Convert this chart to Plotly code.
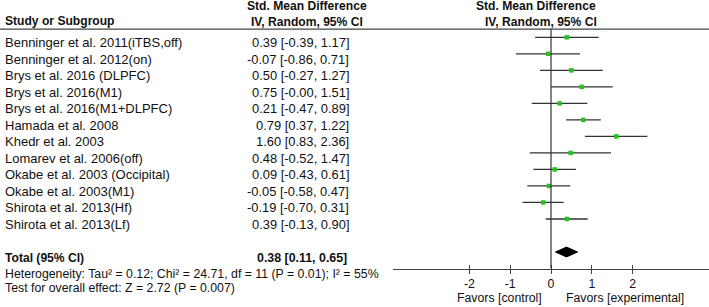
import plotly.graph_objects as go

studies = [
    "Benninger et al. 2011(iTBS,off)",
    "Benninger et al. 2012(on)",
    "Brys et al. 2016 (DLPFC)",
    "Brys et al. 2016(M1)",
    "Brys et al. 2016(M1+DLPFC)",
    "Hamada et al. 2008",
    "Khedr et al. 2003",
    "Lomarev et al. 2006(off)",
    "Okabe et al. 2003 (Occipital)",
    "Okabe et al. 2003(M1)",
    "Shirota et al. 2013(Hf)",
    "Shirota et al. 2013(Lf)",
]
est = [0.39, -0.07, 0.50, 0.75, 0.21, 0.79, 1.60, 0.48, 0.09, -0.05, -0.19, 0.39]
lo = [-0.39, -0.86, -0.27, -0.00, -0.47, 0.37, 0.83, -0.52, -0.43, -0.58, -0.70, -0.13]
hi = [1.17, 0.71, 1.27, 1.51, 0.89, 1.22, 2.36, 1.47, 0.61, 0.47, 0.31, 0.90]

total_est, total_lo, total_hi = 0.38, 0.11, 0.65
tick_vals = [-2, -1, 0, 1, 2]
tick_text = ["-2", "-1", "0", "1", "2"]

heterogeneity = "Heterogeneity: Tau² = 0.12; Chi² = 24.71, df = 11 (P = 0.01); I² = 55%"
overall = "Test for overall effect: Z = 2.72 (P = 0.007)"

W, H = 709, 307
FONT = "Liberation Sans, Arial, sans-serif"
FS_NAME = 13.0
FS_CI = 12.9
FS_BOLD = 12.1
FS_FOOT = 12.3
rows = list(range(1, len(studies) + 1))
total_row = len(studies) + 2
axis_row = total_row + 1
Y_TOP, Y_BOT = -1.26, 17.33
TXT = "#111111"


def py(px):
    return 1 - px / H


def px_x(px):
    return px / W


def fmt(v):
    return f"{v:.2f}"


def f(size):
    return dict(family=FONT, size=size, color=TXT)


fig = go.Figure()

# study estimates with CIs
fig.add_trace(go.Scatter(
    x=est, y=rows, mode="markers",
    marker=dict(symbol="square", size=4.5, color="#22c322"),
    error_x=dict(type="data", symmetric=False,
                 array=[h - e for h, e in zip(hi, est)],
                 arrayminus=[e - l for e, l in zip(est, lo)],
                 width=0, thickness=1.3, color="#333333"),
    showlegend=False, hoverinfo="skip", xaxis="x", yaxis="y",
))

# total diamond
dh = 0.3
fig.add_trace(go.Scatter(
    x=[total_lo, total_est, total_hi, total_est, total_lo],
    y=[total_row, total_row - dh, total_row, total_row + dh, total_row],
    mode="lines", fill="toself", fillcolor="black",
    line=dict(color="black", width=1),
    showlegend=False, hoverinfo="skip", xaxis="x", yaxis="y",
))

# invisible trace for top tick axis
fig.add_trace(go.Scatter(x=[0], y=[axis_row], mode="markers",
                         marker=dict(opacity=0), showlegend=False,
                         hoverinfo="skip", xaxis="x2", yaxis="y"))

axis_pos = (Y_BOT - axis_row) / (Y_BOT - Y_TOP)

shapes = [
    dict(type="line", xref="paper", yref="y", x0=0, x1=1, y0=0.5, y1=0.5,
         line=dict(color="#444444", width=1.3)),
    dict(type="line", xref="x", yref="y", x0=0, x1=0, y0=0.5, y1=axis_row,
         line=dict(color="#333333", width=1.2)),
]

ann = []
A = dict(showarrow=False)
for r, s, e, l, h in zip(rows, studies, est, lo, hi):
    ann.append(dict(A, text=s, font=f(FS_NAME), xref="paper", yref="y", x=px_x(3), y=r,
                    xanchor="left", yanchor="middle", yshift=-5.5))
    ann.append(dict(A, text=f"{fmt(e)} [{fmt(l)}, {fmt(h)}]", font=f(FS_CI),
                    xref="paper", yref="y", x=px_x(351), y=r, xanchor="right",
                    yanchor="middle", yshift=-5.5))

ann.append(dict(A, text="<b>Total (95% CI)</b>", font=f(FS_BOLD), xref="paper", yref="y",
                x=px_x(3), y=total_row, xanchor="left", yanchor="middle", yshift=-5.5))
ann.append(dict(A, text=f"<b>{fmt(total_est)} [{fmt(total_lo)}, {fmt(total_hi)}]</b>",
                font=f(12.4), xref="paper", yref="y", x=px_x(349), y=total_row,
                xanchor="right", yanchor="middle", yshift=-5.5))

ann.append(dict(A, text="<b>Study or Subgroup</b>", font=f(FS_BOLD), xref="paper",
                yref="paper", x=px_x(3), y=py(20.5), xanchor="left", yanchor="middle"))
ann.append(dict(A, text="<b>Std. Mean Difference</b>", font=f(FS_BOLD), xref="paper",
                yref="paper", x=px_x(307), y=py(5.5), xanchor="center", yanchor="middle"))
ann.append(dict(A, text="<b>IV, Random, 95% CI</b>", font=f(FS_BOLD), xref="paper",
                yref="paper", x=px_x(307), y=py(21.5), xanchor="center", yanchor="middle"))
ann.append(dict(A, text="<b>Std. Mean Difference</b>", font=f(FS_BOLD), xref="paper",
                yref="paper", x=px_x(598), y=py(5.5), xanchor="right", yanchor="middle"))
ann.append(dict(A, text="<b>IV, Random, 95% CI</b>", font=f(FS_BOLD), xref="paper",
                yref="paper", x=px_x(599), y=py(21.5), xanchor="right", yanchor="middle"))

ann.append(dict(A, text=heterogeneity, font=f(FS_FOOT), xref="paper", yref="paper",
                x=px_x(3), y=py(274), xanchor="left", yanchor="middle"))
ann.append(dict(A, text=overall, font=f(FS_FOOT), xref="paper", yref="paper",
                x=px_x(3), y=py(287.5), xanchor="left", yanchor="middle"))
ann.append(dict(A, text="Favors [control]", font=f(FS_FOOT), xref="paper", yref="paper",
                x=px_x(544), y=py(298), xanchor="right", yanchor="middle"))
ann.append(dict(A, text="Favors [experimental]", font=f(FS_FOOT), xref="paper",
                yref="paper", x=px_x(564), y=py(298), xanchor="left", yanchor="middle"))

xdom = [393 / W, 1]
fig.update_layout(
    width=W, height=H,
    margin=dict(l=0, r=0, t=0, b=0),
    paper_bgcolor="white", plot_bgcolor="rgba(0,0,0,0)",
    font=dict(family=FONT, size=FS_FOOT, color=TXT),
    xaxis=dict(domain=xdom, range=[-3.87, 3.87], anchor="free", position=axis_pos,
               showline=True, linecolor="#444444", linewidth=1.3,
               ticks="outside", ticklen=4, tickcolor="#444444", tickwidth=1.2,
               tickvals=tick_vals, ticktext=tick_text, showgrid=False,
               zeroline=False, tickfont=f(FS_FOOT), fixedrange=True),
    xaxis2=dict(domain=xdom, matches="x", overlaying="x", side="top",
                anchor="free", position=axis_pos, showline=False,
                ticks="outside", ticklen=4, tickcolor="#444444", tickwidth=1.2,
                tickvals=tick_vals, showticklabels=False, showgrid=False,
                zeroline=False),
    yaxis=dict(domain=[0, 1], range=[Y_BOT, Y_TOP], visible=False,
               showgrid=False, zeroline=False, fixedrange=True),
    shapes=shapes, annotations=ann,
)

fig.write_html("out.html", config={"displayModeBar": False},
               post_script="document.body.style.margin='0';document.body.style.padding='0';")
